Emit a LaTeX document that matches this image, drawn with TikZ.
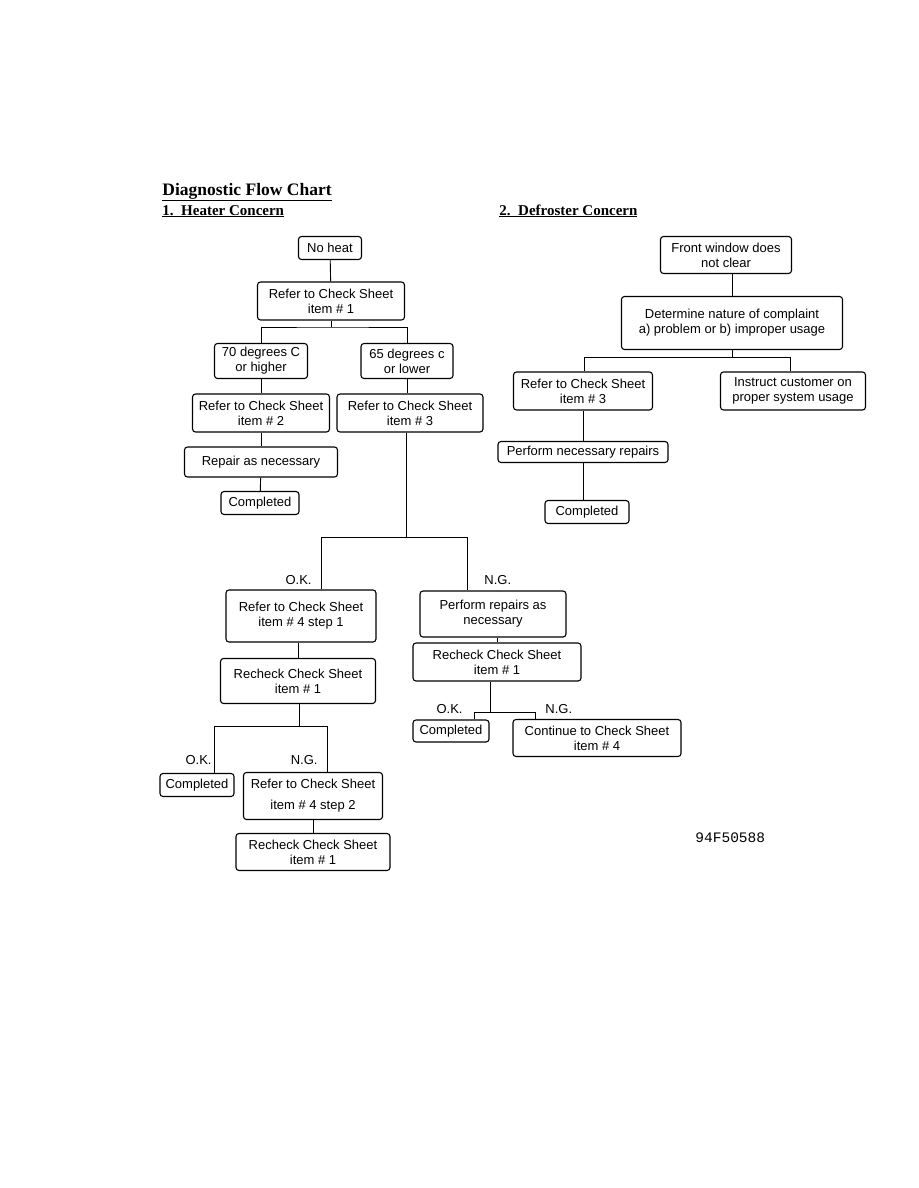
\documentclass[tikz,border=0pt]{standalone}
\usepackage{fontspec}
\setmainfont{Liberation Sans}
\newfontfamily\titlefont{Liberation Serif}
\newfontfamily\codefont{Liberation Mono}
\usepackage{tikz}
\usetikzlibrary{positioning,calc}
\newcommand{\boxfont}{\fontsize{13}{15}\selectfont}

\begin{document}
\begin{tikzpicture}[x=1pt,y=-1pt,line width=0.9pt,font=\boxfont,
  bx/.style 2 args={draw,rounded corners=3pt,line width=1.1pt,align=center,
    inner sep=0pt,minimum width=#1,minimum height=#2},
  lbl/.style={inner sep=1pt},
  head/.style={anchor=base west,inner sep=0pt,font=\titlefont\bfseries\fontsize{15}{17}\selectfont}]
  \useasboundingbox (0,0) rectangle (918,1188);
  % headings
  \node[head,font=\titlefont\bfseries\fontsize{17.5}{20}\selectfont] (title) at (162,195) {\underline{Diagnostic Flow Chart}};
  \node[head] (head1) at (162,215) {\underline{1.\ \ Heater Concern}};
  \node[head] (head2) at (499,215) {\underline{2.\ \ Defroster Concern}};
  % heater concern
  \node[bx={63pt}{23pt}] (noheat) at (330,248) {No heat};
  \node[bx={147pt}{38pt}] (ref1) at (331,301) {Refer to Check Sheet\\item \# 1};
  \node[bx={93pt}{35pt}] (hot) at (261,361) {70 degrees C\\or higher};
  \node[bx={92pt}{35pt}] (cold) at (407,361) {65 degrees c\\or lower};
  \node[bx={137pt}{38pt}] (ref2) at (261,413) {Refer to Check Sheet\\item \# 2};
  \node[bx={146pt}{38pt}] (ref3) at (410,413) {Refer to Check Sheet\\item \# 3};
  \node[bx={153pt}{30pt}] (repair) at (261,462) {Repair as necessary};
  \node[bx={78pt}{23pt}] (done1) at (260,503) {Completed};
  \node[bx={150pt}{52pt}] (ref4a) at (301,616) {Refer to Check Sheet\\item \# 4 step 1};
  \node[bx={146pt}{46pt}] (rep2) at (493,614) {Perform repairs as\\necessary};
  \node[bx={168pt}{38pt}] (rechk2) at (497,662) {Recheck Check Sheet\\item \# 1};
  \node[bx={76pt}{22pt}] (done3) at (451,731) {Completed};
  \node[bx={168pt}{37pt}] (cont) at (597,738) {Continue to Check Sheet\\item \# 4};
  \node[bx={155pt}{45pt}] (rechk1) at (298,681) {Recheck Check Sheet\\item \# 1};
  \node[bx={74pt}{23pt}] (done2) at (197,785) {Completed};
  \node[bx={139pt}{47pt}] (ref4b) at (313,796) {Refer to Check Sheet\\[6pt]item \# 4 step 2};
  \node[bx={154pt}{37pt}] (rechk3) at (313,852) {Recheck Check Sheet\\item \# 1};
  % tee points
  \coordinate (j1) at (331,327);
  \coordinate (j2) at (406,537);
  \coordinate (t2l) at (321,537);
  \coordinate (t2r) at (467,537);
  \coordinate (j3) at (490,712);
  \coordinate (t3l) at (474,712);
  \coordinate (t3r) at (535,712);
  \coordinate (j4) at (299,726);
  \coordinate (t4l) at (214,726);
  \coordinate (t4r) at (327,726);
  \draw (noheat) -- (ref1);
  \draw (ref1) -- (j1);
  \draw (hot.north) |- (j1) -| (cold.north);
  \draw (hot) -- (ref2);
  \draw (cold.south) -- (cold.south |- ref3.north);
  \draw (ref2) -- (repair);
  \draw (repair) -- (done1);
  \draw (j2 |- ref3.south) -- (j2);
  \draw (t2l |- ref4a.north) -- (t2l) -- (t2r) -- (t2r |- rep2.north);
  \draw (rep2.south -| rechk2) -- (rechk2.north);
  \draw (j3 |- rechk2.south) -- (j3);
  \draw (t3l |- done3.north) -- (t3l) -- (t3r) -- (t3r |- cont.north);
  \draw (ref4a.south -| rechk1) -- (rechk1.north);
  \draw (j4 |- rechk1.south) -- (j4);
  \draw (t4l |- done2.north) -- (t4l) -- (t4r) -- (t4r |- ref4b.north);
  \draw (ref4b) -- (rechk3);
  % branch labels
  \node[lbl,anchor=base east] (ok1) at (313,584) {O.K.};
  \node[lbl,anchor=base west] (ng1) at (483,584) {N.G.};
  \node[lbl,anchor=base east] (ok3) at (464,713) {O.K.};
  \node[lbl,anchor=base west] (ng3) at (544,713) {N.G.};
  \node[lbl,anchor=base east] (ok4) at (213,764) {O.K.};
  \node[lbl,anchor=base east] (ng4) at (319,764) {N.G.};
  % defroster concern
  \node[bx={131pt}{37pt}] (front) at (726,255) {Front window does\\not clear};
  \node[bx={221pt}{53pt}] (determ) at (732,323) {Determine nature of complaint\\a) problem or b) improper usage};
  \node[bx={139pt}{38pt}] (ref3r) at (583,391) {Refer to Check Sheet\\item \# 3};
  \node[bx={145pt}{38pt}] (instr) at (793,391) {Instruct customer on\\proper system usage};
  \node[bx={170pt}{21pt}] (perf) at (583,452) {Perform necessary repairs};
  \node[bx={84pt}{23pt}] (done4) at (587,512) {Completed};
  \coordinate (j5) at (732,357);
  \coordinate (t5l) at (584,357);
  \coordinate (t5r) at (790,357);
  \draw (front.south -| determ) -- (determ.north);
  \draw (determ) -- (j5);
  \draw (t5l |- ref3r.north) -- (t5l) -- (t5r) -- (t5r |- instr.north);
  \draw (ref3r) -- (perf);
  \draw (perf.south -| ref3r) -- (ref3r |- done4.north);
  % figure code
  \node[anchor=base west,inner sep=0pt,font=\codefont\fontsize{14.5}{16}\selectfont] (code) at (695,842) {94F50588};
\end{tikzpicture}
\end{document}
